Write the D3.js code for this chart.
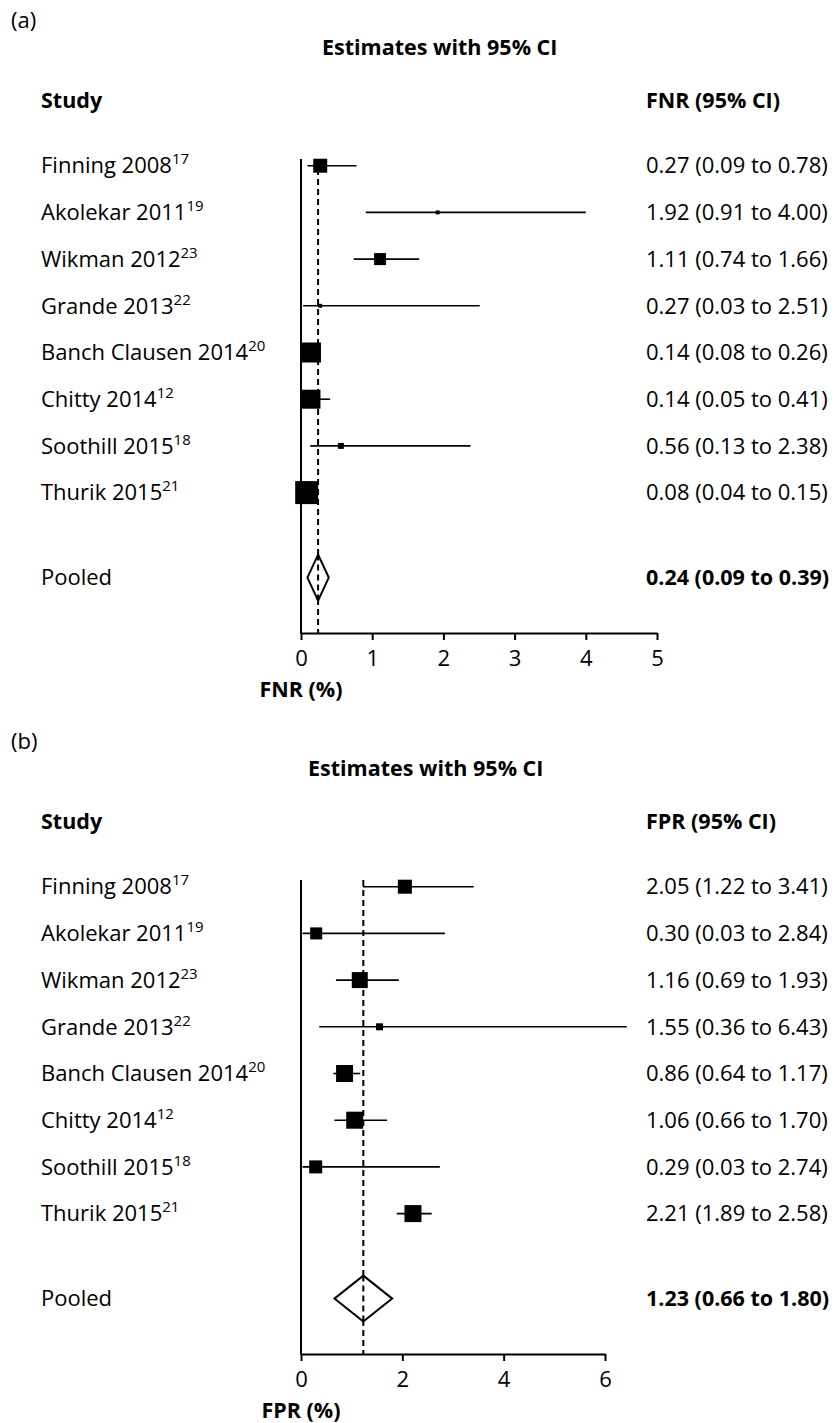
<!DOCTYPE html>
<html>
<head>
<meta charset="utf-8">
<script src="https://cdn.jsdelivr.net/npm/d3@7"></script>
<style>
  body { margin: 0; background: #fff; }
  text { font-family: "Open Sans", "Noto Sans", sans-serif; fill: #000; }
</style>
</head>
<body>
<svg id="chart" width="837" height="1423"></svg>
<script>
// study labels + superscript reference numbers
const studies = ["Finning 2008", "Akolekar 2011", "Wikman 2012", "Grande 2013",
  "Banch Clausen 2014", "Chitty 2014", "Soothill 2015", "Thurik 2015"];
const refs = ["17", "19", "23", "22", "20", "12", "18", "21"];

// FNR (%) estimates, CI and box weights
const fnrEst = [0.27, 1.92, 1.11, 0.27, 0.14, 0.14, 0.56, 0.08];
const fnrLo = [0.09, 0.91, 0.74, 0.03, 0.08, 0.05, 0.13, 0.04];
const fnrHi = [0.78, 4.00, 1.66, 2.51, 0.26, 0.41, 2.38, 0.15];
const fnrWeight = [11.5, 0.9, 8.5, 0.9, 23.6, 21.3, 2.1, 31.2];
const fnrPooled = [0.24, 0.09, 0.39];
const fnrTicks = [0, 1, 2, 3, 4, 5];

// FPR (%) estimates, CI and box weights
const fprEst = [2.05, 0.30, 1.16, 1.55, 0.86, 1.06, 0.29, 2.21];
const fprLo = [1.22, 0.03, 0.69, 0.36, 0.64, 0.66, 0.03, 1.89];
const fprHi = [3.41, 2.84, 1.93, 6.43, 1.17, 1.70, 2.74, 2.58];
const fprWeight = [11.7, 8.6, 15.2, 2.9, 17.2, 17.2, 10.1, 17.2];
const fprPooled = [1.23, 0.66, 1.80];
const fprTicks = [0, 2, 4, 6];

const svg = d3.select("#chart");
const fs = 22;     // regular text
const fb = 21.5;   // bold headings

function drawPanel(opt) {
  const g = svg.append("g").attr("transform", `translate(0,${opt.dy})`);
  const x = d3.scaleLinear().domain(opt.domain).range([301, opt.xEnd]);
  const y = d3.scaleLinear().domain([0, 1]).range([165.7, 212.4]);
  const size = d3.scaleSqrt().domain([0, d3.max(opt.weight)]).range([0, opt.maxBox]);
  const pooledRow = 8.82;
  const axisY = 633;
  const top = 159;

  g.append("text").attr("x", 11).attr("y", 28).attr("font-size", fs).text(opt.tag);
  g.append("text").attr("x", opt.titleX).attr("y", 55).attr("font-size", fb)
    .attr("font-weight", "bold").text("Estimates with 95% CI");
  g.append("text").attr("x", 41).attr("y", 108).attr("font-size", fb)
    .attr("font-weight", "bold").text("Study");
  g.append("text").attr("x", 646).attr("y", 108).attr("font-size", fb)
    .attr("font-weight", "bold").text(opt.name + " (95% CI)");

  // axis
  const axis = g.append("g").attr("transform", `translate(0,${axisY})`)
    .call(d3.axisBottom(x).tickValues(opt.ticks).tickSize(7).tickSizeOuter(0).tickFormat(d3.format("d")));
  axis.select(".domain").attr("stroke-width", 2);
  axis.selectAll(".tick line").attr("stroke-width", 2);
  axis.selectAll(".tick text").attr("font-size", fs).attr("font-family", "Open Sans")
    .attr("y", 33).attr("dy", null);
  g.append("line").attr("x1", x(0)).attr("x2", x(0)).attr("y1", top).attr("y2", axisY + 1)
    .attr("stroke", "#000").attr("stroke-width", 2);
  g.append("text").attr("x", x(0)).attr("y", axisY + 64).attr("text-anchor", "middle")
    .attr("font-size", fb).attr("font-weight", "bold").text(opt.name + " (%)");

  // pooled reference line
  g.append("line").attr("x1", x(opt.pooled[0])).attr("x2", x(opt.pooled[0]))
    .attr("y1", top).attr("y2", axisY).attr("stroke", "#000").attr("stroke-width", 2)
    .attr("stroke-dasharray", "6,4");

  const rows = studies.map((s, i) => ({
    s, ref: refs[i], est: opt.est[i], lo: opt.lo[i], hi: opt.hi[i], w: opt.weight[i], i
  }));

  g.selectAll(".ci").data(rows).join("line")
    .attr("x1", d => x(d.lo)).attr("x2", d => x(d.hi))
    .attr("y1", d => y(d.i)).attr("y2", d => y(d.i))
    .attr("stroke", "#000").attr("stroke-width", 1.6);

  g.selectAll(".box").data(rows).join("rect")
    .attr("x", d => x(d.est) - size(d.w) / 2).attr("y", d => y(d.i) - size(d.w) / 2)
    .attr("width", d => size(d.w)).attr("height", d => size(d.w)).attr("fill", "#000");

  const lab = g.selectAll(".lab").data(rows).join("text")
    .attr("x", 41).attr("y", d => y(d.i)).attr("dy", "0.35em").attr("font-size", fs);
  lab.append("tspan").text(d => d.s);
  lab.append("tspan").attr("font-size", 15).attr("dy", -9).text(d => d.ref);

  g.selectAll(".val").data(rows).join("text")
    .attr("x", 646).attr("y", d => y(d.i)).attr("dy", "0.35em").attr("font-size", fs)
    .text(d => `${d.est.toFixed(2)} (${d.lo.toFixed(2)} to ${d.hi.toFixed(2)})`);

  // pooled diamond
  const py = y(pooledRow);
  const [pe, pl, ph] = opt.pooled;
  g.append("path")
    .attr("d", `M${x(pl)},${py} L${x(pe)},${py - 23} L${x(ph)},${py} L${x(pe)},${py + 23} Z`)
    .attr("fill", "#fff").attr("stroke", "#000").attr("stroke-width", 2);
  g.append("line").attr("x1", x(pe)).attr("x2", x(pe)).attr("y1", py - 23).attr("y2", py + 23)
    .attr("stroke", "#000").attr("stroke-width", 2).attr("stroke-dasharray", "6,4");
  g.append("text").attr("x", 41).attr("y", py).attr("dy", "0.35em").attr("font-size", fs).text("Pooled");
  g.append("text").attr("x", 646).attr("y", py).attr("dy", "0.35em").attr("font-size", fb)
    .attr("font-weight", "bold")
    .text(`${pe.toFixed(2)} (${pl.toFixed(2)} to ${ph.toFixed(2)})`);
}

drawPanel({ tag: "(a)", name: "FNR", dy: 0, domain: [0, 5], xEnd: 657, ticks: fnrTicks, titleX: 322,
  est: fnrEst, lo: fnrLo, hi: fnrHi, weight: fnrWeight, pooled: fnrPooled, maxBox: 23 });
drawPanel({ tag: "(b)", name: "FPR", dy: 721, domain: [0, 6], xEnd: 605, ticks: fprTicks, titleX: 308,
  est: fprEst, lo: fprLo, hi: fprHi, weight: fprWeight, pooled: fprPooled, maxBox: 17 });
</script>
</body>
</html>
